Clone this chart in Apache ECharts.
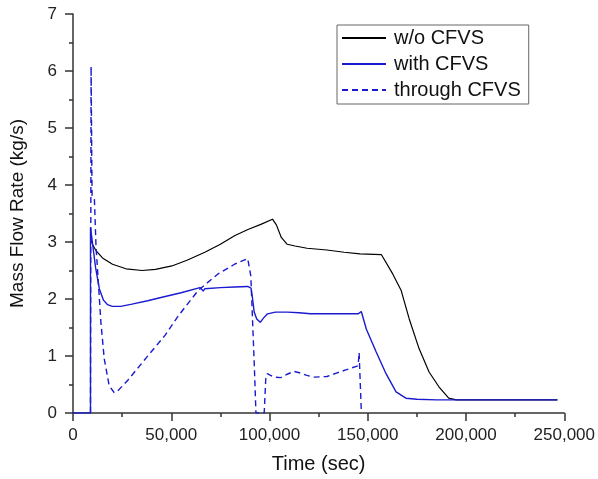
<!DOCTYPE html>
<html>
<head>
<meta charset="utf-8">
<script src="https://cdn.jsdelivr.net/npm/echarts@6/dist/echarts.min.js"></script>
<style>
	html, body { margin: 0; padding: 0; background: #fff; }
	#chart { width: 598px; height: 479px; }
</style>
</head>
<body>
<div id="chart"></div>
<script>
	// w/o CFVS
	var woTime = [8900, 10000, 11700, 15000, 20100, 27000, 35200, 42000, 50300, 58000, 67100, 75000, 82200, 89000, 95600, 101500, 103500, 106000, 109000, 113000, 119100, 129200, 138000, 146000, 156900, 157700, 162700, 167000, 167400, 168000, 171100, 176100, 181200, 186200, 191200, 195000, 246500];
	var woFlow = [3.05, 2.95, 2.85, 2.72, 2.61, 2.53, 2.50, 2.52, 2.58, 2.68, 2.82, 2.96, 3.11, 3.22, 3.31, 3.40, 3.30, 3.08, 2.96, 2.93, 2.89, 2.86, 2.82, 2.79, 2.78, 2.76, 2.44, 2.15, 2.10, 2.08, 1.65, 1.13, 0.72, 0.46, 0.26, 0.23, 0.23];

	// with CFVS
	var withTime = [0, 8900, 8900, 9500, 10100, 11500, 13400, 15500, 17600, 20000, 24300, 30000, 38000, 45300, 55000, 64600, 65600, 66300, 67000, 75000, 82000, 88900, 90600, 91400, 92200, 93500, 95300, 96800, 99000, 103000, 109000, 115000, 120800, 130000, 145100, 145900, 146700, 149300, 154300, 159300, 164400, 169400, 175000, 185000, 246500];
	var withFlow = [0, 0, 3.25, 3.10, 2.93, 2.55, 2.18, 1.98, 1.90, 1.87, 1.87, 1.91, 1.97, 2.03, 2.11, 2.20, 2.21, 2.14, 2.18, 2.20, 2.21, 2.22, 2.19, 2.00, 1.77, 1.65, 1.59, 1.66, 1.74, 1.77, 1.77, 1.76, 1.74, 1.74, 1.74, 1.74, 1.78, 1.47, 1.07, 0.69, 0.37, 0.26, 0.24, 0.23, 0.23];

	// through CFVS
	var thruTime = [8900, 9200, 9700, 10900, 11700, 12900, 14200, 15900, 18400, 20900, 22600, 28000, 38500, 47000, 53700, 63700, 73800, 82200, 88900, 89600, 90500, 91400, 92300, 93100, 97300, 98100, 98900, 100500, 102300, 105700, 109000, 112400, 115800, 119000, 122500, 129200, 134000, 139200, 145100, 145600, 146200, 146700];
	var thruFlow = [0, 6.08, 3.81, 3.75, 2.93, 2.29, 1.59, 0.95, 0.48, 0.36, 0.38, 0.58, 1.02, 1.37, 1.71, 2.15, 2.44, 2.61, 2.71, 2.72, 2.40, 1.60, 0.80, 0, 0, 0.60, 0.69, 0.66, 0.63, 0.62, 0.68, 0.73, 0.70, 0.66, 0.63, 0.64, 0.70, 0.76, 0.83, 1.06, 0.50, 0.05];

	function pairs(xs, ys) {
		return xs.map(function (x, i) { return [x, ys[i]]; });
	}

	var chart = echarts.init(document.getElementById('chart'));

	var axisColor = '#333';
	var fontName = 'Liberation Sans, Arial, sans-serif';

	var option = {
		backgroundColor: '#fff',
		animation: false,
		textStyle: { fontFamily: fontName },
		grid: {
			left: 70,
			right: 31,
			top: 14,
			bottom: 65,
			containLabel: false
		},
		legend: {
			orient: 'vertical',
			left: 337,
			top: 25,
			width: 190,
			padding: [3, 8, 4, 4],
			itemGap: 6,
			itemWidth: 44,
			itemHeight: 14,
			borderColor: '#666',
			borderWidth: 1,
			itemStyle: { opacity: 0 },
			textStyle: {
				fontSize: 20,
				color: '#111',
				fontFamily: fontName,
				padding: [0, 0, 0, 3]
			},
			data: ['w/o CFVS', 'with CFVS', 'through CFVS']
		},
		xAxis: {
			type: 'value',
			min: 0,
			max: 250000,
			interval: 50000,
			name: 'Time (sec)',
			nameLocation: 'middle',
			nameGap: 41,
			nameTextStyle: { fontSize: 20, color: '#111' },
			axisLine: { lineStyle: { color: axisColor, width: 1.5 } },
			axisTick: { show: true, length: 8, lineStyle: { color: axisColor, width: 1.5 } },
			minorTick: { show: true, splitNumber: 2, length: 4, lineStyle: { color: axisColor, width: 1.5 } },
			splitLine: { show: false },
			axisLabel: {
				fontSize: 17,
				color: '#222',
				margin: 14,
				formatter: function (v) { return v.toLocaleString('en-US'); }
			}
		},
		yAxis: {
			type: 'value',
			min: 0,
			max: 7,
			interval: 1,
			name: 'Mass Flow Rate (kg/s)',
			nameLocation: 'middle',
			nameGap: 46,
			nameTextStyle: { fontSize: 19, color: '#111' },
			axisLine: { show: true, lineStyle: { color: axisColor, width: 1.5 } },
			axisTick: { show: true, length: 8, lineStyle: { color: axisColor, width: 1.5 } },
			minorTick: { show: true, splitNumber: 2, length: 4, lineStyle: { color: axisColor, width: 1.5 } },
			splitLine: { show: false },
			axisLabel: { fontSize: 17, color: '#222', margin: 16 }
		},
		series: [
			{
				name: 'w/o CFVS',
				type: 'line',
				symbol: 'none',
				color: '#000',
				lineStyle: { color: '#000', width: 1.2 },
				data: pairs(woTime, woFlow)
			},
			{
				name: 'with CFVS',
				type: 'line',
				symbol: 'none',
				color: '#1a1ad0',
				lineStyle: { color: '#1a1ad0', width: 1.4 },
				data: pairs(withTime, withFlow)
			},
			{
				name: 'through CFVS',
				type: 'line',
				symbol: 'none',
				color: '#1a1ad0',
				lineStyle: { color: '#1a1ad0', width: 1.4, type: [6, 4] },
				data: pairs(thruTime, thruFlow)
			}
		]
	};

	chart.setOption(option);

	window.onresize = function () {
		chart.resize();
	};
</script>
</body>
</html>
